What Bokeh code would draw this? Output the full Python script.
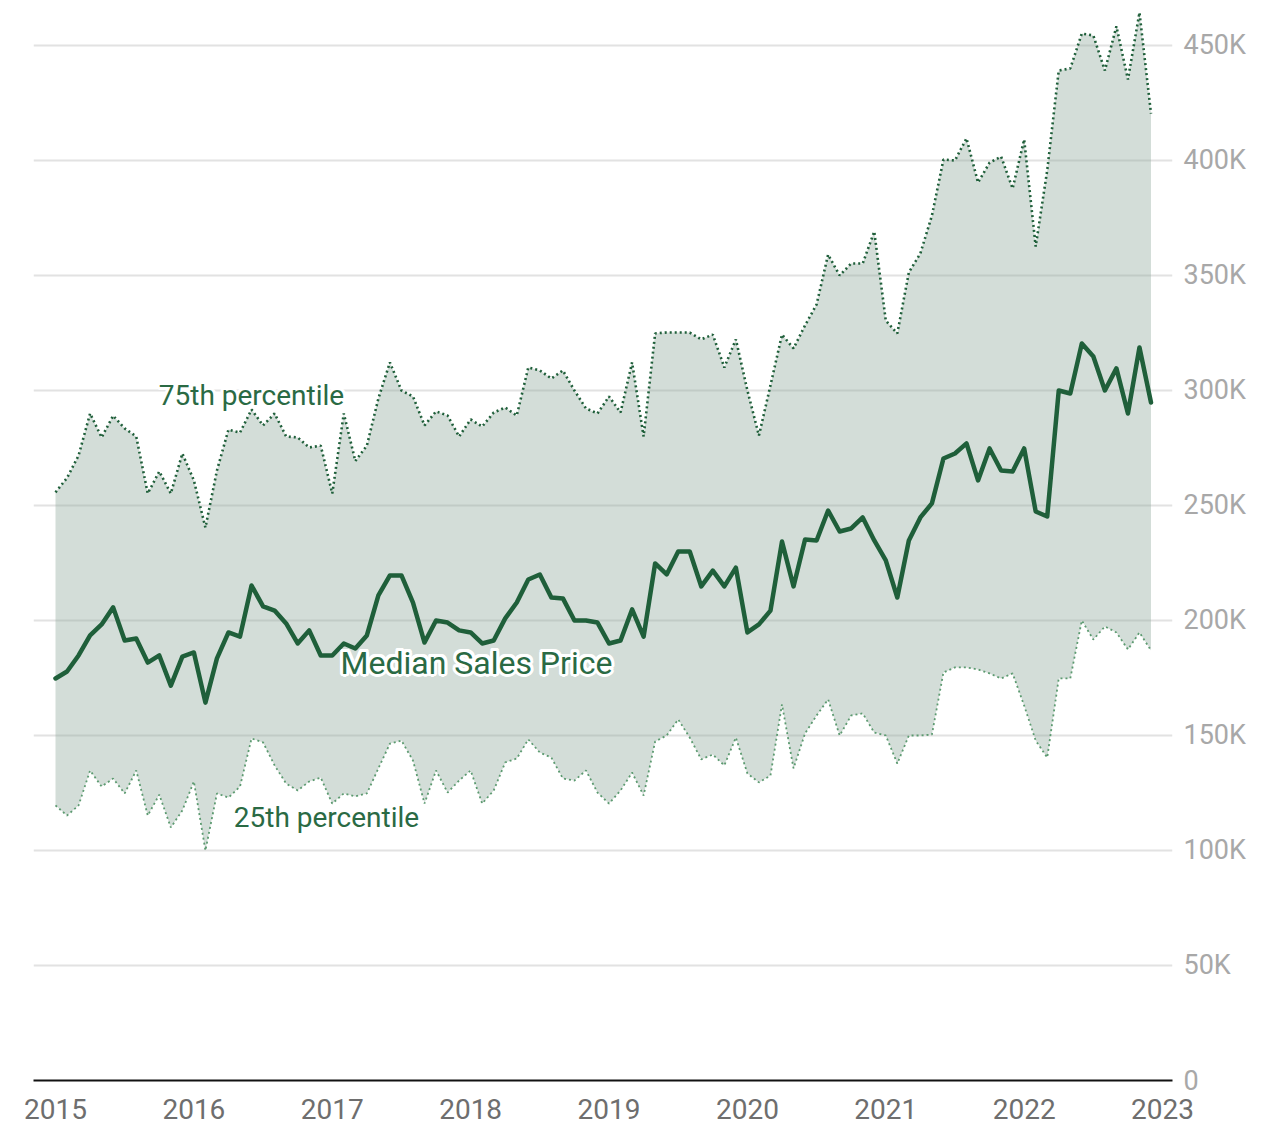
from bokeh.plotting import figure
from bokeh.models import Range1d, FixedTicker, ColumnDataSource
from bokeh.core.properties import value
from bokeh.embed import file_html
from bokeh.resources import INLINE
import numpy as np

# Monthly values, Jan 2015 .. Dec 2022, in thousands of dollars
p75 = [255.7, 262.0, 271.7, 290.0, 279.6, 289.0, 283.5, 280.0, 255.2, 264.8, 255.2, 272.6,
       260.9, 240.4, 265.2, 283.0, 281.7, 291.7, 284.8, 290.0, 280.0, 279.6, 275.2, 276.0,
       255.2, 290.0, 269.3, 276.0, 296.5, 312.2, 300.0, 297.4, 284.8, 290.9, 289.1, 280.0,
       287.4, 284.3, 290.4, 292.6, 289.1, 310.0, 308.7, 305.2, 308.7, 300.0, 292.2, 290.0,
       297.4, 290.4, 312.2, 280.0, 324.8, 325.2, 325.2, 325.2, 322.2, 324.3, 310.0, 322.2,
       300.0, 280.4, 302.2, 324.3, 318.3, 328.3, 337.4, 359.1, 350.0, 355.2, 355.2, 369.1,
       330.4, 324.8, 351.3, 359.6, 376.0, 400.4, 400.0, 409.6, 390.4, 399.0, 401.7, 387.8,
       409.1, 362.6, 395.7, 439.1, 440.0, 455.2, 454.3, 439.1, 458.3, 435.2, 464.3, 420.4]

median = [174.8, 177.8, 184.8, 193.5, 198.3, 205.7, 191.3, 192.2, 181.7, 184.8, 171.7, 184.3,
          186.1, 164.3, 183.5, 194.8, 193.0, 215.2, 206.1, 204.3, 198.7, 190.0, 195.7, 184.8,
          184.8, 190.0, 187.8, 193.5, 210.9, 219.6, 219.6, 207.8, 190.4, 200.0, 199.1, 195.7,
          194.8, 190.0, 191.3, 200.9, 207.8, 217.8, 220.0, 210.0, 209.6, 200.0, 200.0, 199.1,
          190.0, 191.3, 204.8, 193.0, 224.8, 220.0, 230.0, 230.0, 214.8, 221.7, 214.8, 223.0,
          194.8, 198.3, 204.3, 234.3, 214.8, 235.2, 234.8, 247.8, 238.7, 240.0, 244.8, 234.8,
          226.1, 210.0, 234.8, 244.8, 250.9, 270.4, 272.6, 277.0, 260.9, 274.8, 265.2, 264.8,
          274.8, 247.4, 245.2, 300.0, 298.7, 320.4, 314.8, 300.0, 309.6, 290.0, 318.7, 294.8]

p25 = [119.6, 115.2, 119.6, 134.8, 127.8, 131.3, 124.8, 134.8, 115.2, 124.3, 110.0, 117.4,
       130.0, 100.0, 124.8, 123.0, 127.8, 148.7, 147.0, 137.0, 129.1, 126.1, 130.0, 131.7,
       120.4, 124.8, 123.5, 124.8, 135.7, 146.5, 147.8, 139.1, 120.4, 134.8, 125.2, 130.4,
       134.8, 120.4, 126.1, 138.3, 140.0, 148.3, 142.6, 140.4, 131.3, 130.4, 134.8, 125.2,
       120.4, 126.1, 133.9, 123.9, 147.4, 150.0, 157.0, 149.1, 139.6, 141.7, 137.0, 149.1,
       133.5, 129.6, 132.6, 163.5, 135.7, 150.9, 158.7, 165.7, 150.0, 158.7, 159.6, 151.3,
       150.0, 137.8, 150.0, 150.0, 150.4, 177.4, 179.6, 179.6, 178.7, 177.0, 174.8, 177.0,
       163.0, 147.8, 140.4, 174.8, 174.8, 200.0, 191.7, 197.4, 194.8, 187.4, 194.8, 187.0]

start_year = 2015
x_ticks = [2015, 2016, 2017, 2018, 2019, 2020, 2021, 2022, 2023]
y_ticks = [0, 50, 100, 150, 200, 250, 300, 350, 400, 450]
y_tick_labels = ["0", "50K", "100K", "150K", "200K", "250K", "300K", "350K", "400K", "450K"]

labels = ["75th percentile", "Median Sales Price", "25th percentile"]

months = np.arange(len(median))
x = start_year + months / 12.0
src = ColumnDataSource(dict(x=x, p25=p25, p75=p75, median=median))

DARK = "#1f5f3a"
TEXT = "#2a6a44"

p = figure(width=1260, height=1124, output_backend="svg", toolbar_location=None,
           x_range=Range1d(2014.841, 2023.072), y_range=Range1d(0, 465.2),
           y_axis_location="right", min_border_left=33, min_border_right=88,
           min_border_top=10, min_border_bottom=44)
p.outline_line_color = None
p.background_fill_color = "white"
p.border_fill_color = "white"

# grid
p.xgrid.visible = False
p.ygrid.ticker = FixedTicker(ticks=y_ticks[1:])
p.ygrid.grid_line_color = "#e2e2e2"
p.ygrid.grid_line_width = 2

# x axis
p.xaxis.ticker = FixedTicker(ticks=x_ticks)
p.xaxis.axis_line_color = "#111111"
p.xaxis.axis_line_width = 2
p.xaxis.major_tick_line_color = None
p.xaxis.minor_tick_line_color = None
p.xaxis.major_label_text_font = "Roboto"
p.xaxis.major_label_text_font_size = "28px"
p.xaxis.major_label_text_color = "#6e6e6e"
p.xaxis.major_label_standoff = 12

# y axis (right)
p.yaxis.ticker = FixedTicker(ticks=y_ticks)
p.yaxis.major_label_overrides = {t: l for t, l in zip(y_ticks, y_tick_labels)}
p.yaxis.axis_line_color = None
p.yaxis.major_tick_line_color = None
p.yaxis.minor_tick_line_color = None
p.yaxis.major_label_text_font = "Roboto"
p.yaxis.major_label_text_font_size = "27px"
p.yaxis.major_label_text_color = "#a8a8a8"
p.yaxis.major_label_standoff = 5

# band
p.varea(x="x", y1="p25", y2="p75", source=src, fill_color="#91aa9e", fill_alpha=0.4)
p.line(x="x", y="p75", source=src, line_color=DARK, line_width=2.6, line_dash="2 3")
p.line(x="x", y="p25", source=src, line_color="#5c9a70", line_width=1.8, line_dash="2 3")
p.line(x="x", y="median", source=src, line_color=DARK, line_width=4.5,
       line_join="round", line_cap="round")

# labels with white halo
label_pos = [(2016.416, 297.8, "28px"), (2018.042, 181.7, "32px"), (2016.958, 114.3, "28px")]
angles = np.linspace(0, 2 * np.pi, 16, endpoint=False)
for (lx, ly, fs), t in zip(label_pos, labels):
    for r in (1.5, 3.0):
        p.text(x=[lx] * len(angles), y=[ly] * len(angles), text=[t] * len(angles),
               x_offset=list(r * np.cos(angles)), y_offset=list(r * np.sin(angles)),
               text_color="white", text_font=value("Roboto"), text_font_size=fs,
               text_align="center", text_baseline="middle")
    p.text(x=[lx], y=[ly], text=[t], text_color=TEXT, text_font=value("Roboto"),
           text_font_size=fs, text_align="center", text_baseline="middle")

open("out.html", "w").write(file_html(p, INLINE))
